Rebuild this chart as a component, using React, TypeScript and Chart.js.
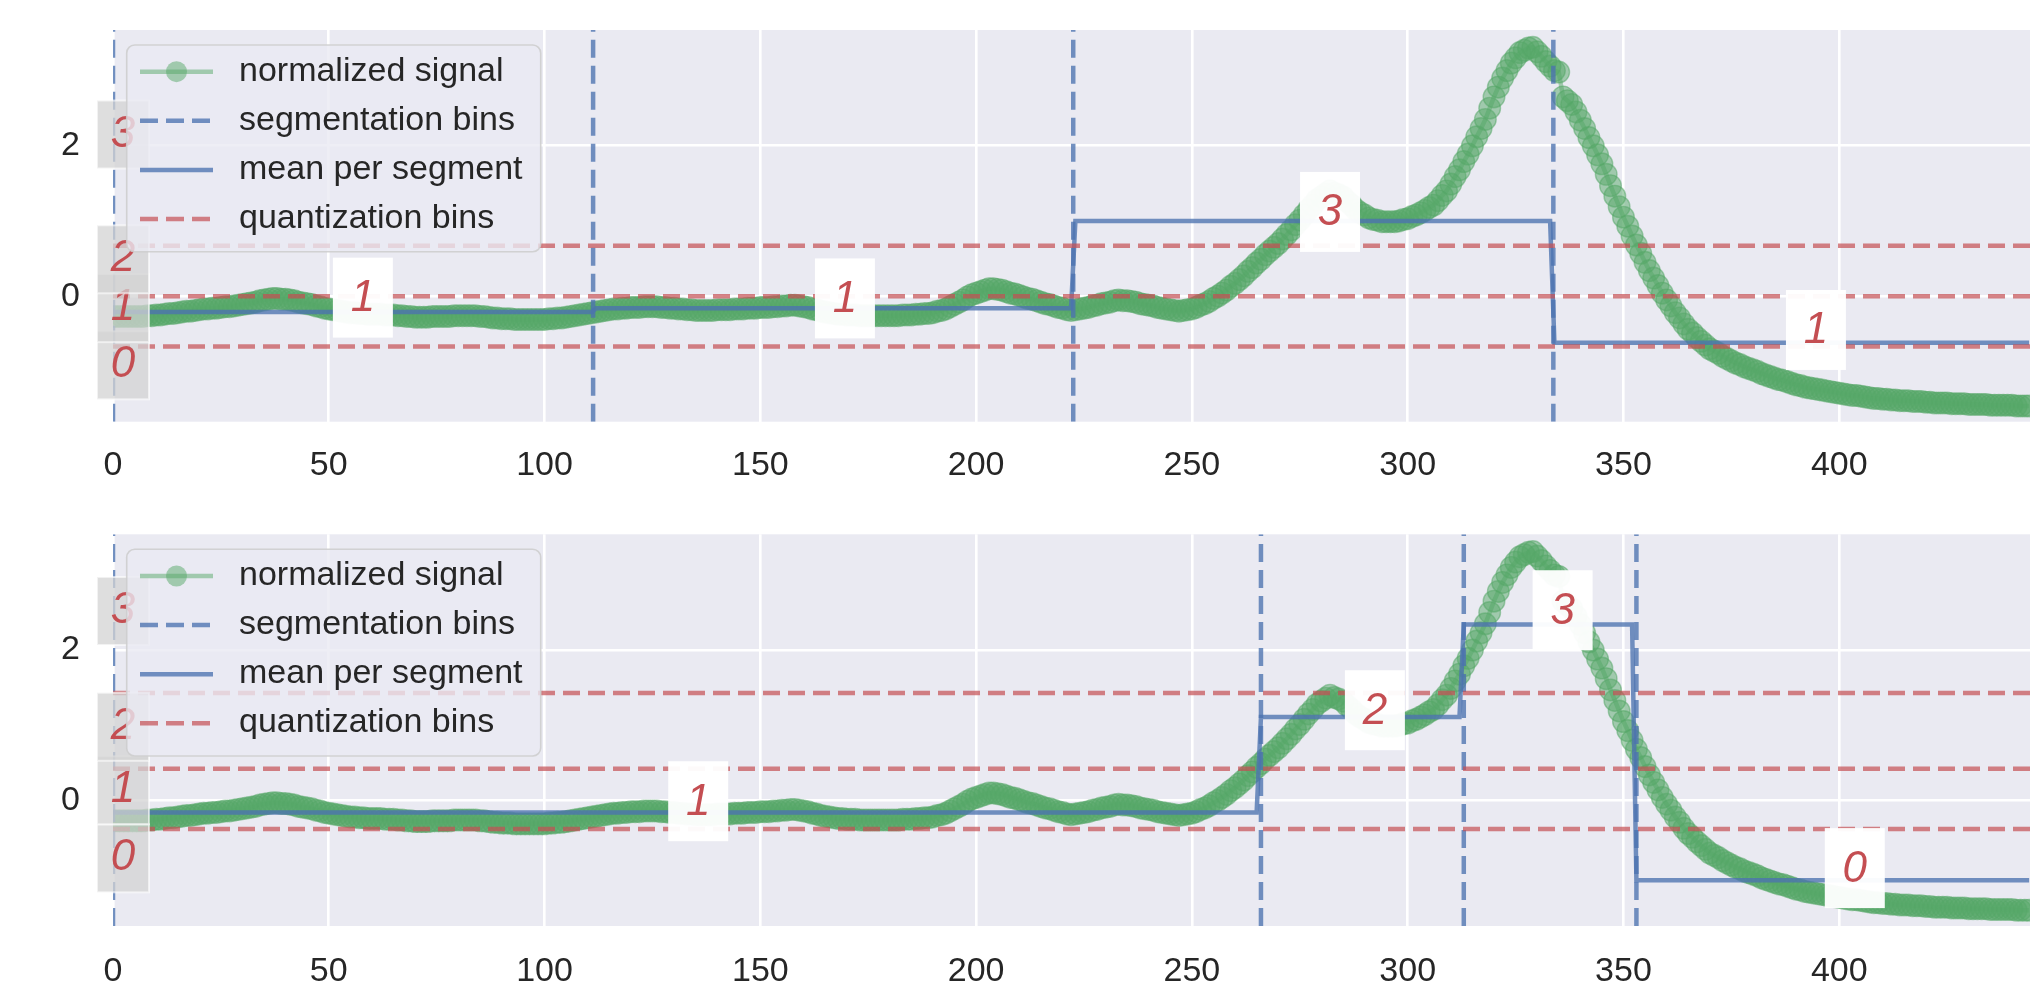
import React, { useEffect, useRef } from "react";
import { Chart, registerables } from "chart.js";

Chart.register(...registerables);

const FONT = "'Liberation Sans', Arial, sans-serif";

// normalized signal, one value per sample index 0..444
const signal: number[] = [
  -0.27, -0.27, -0.27, -0.27, -0.27, -0.27, -0.27, -0.27, -0.26, -0.26,
  -0.25, -0.25, -0.24, -0.23, -0.23, -0.22, -0.21, -0.2, -0.2, -0.19,
  -0.18, -0.17, -0.17, -0.16, -0.16, -0.15, -0.14, -0.14, -0.13, -0.12,
  -0.11, -0.1, -0.09, -0.08, -0.06, -0.05, -0.04, -0.03, -0.03, -0.04,
  -0.04, -0.05, -0.06, -0.08, -0.09, -0.1, -0.11, -0.13, -0.14, -0.16,
  -0.17, -0.18, -0.19, -0.2, -0.21, -0.22, -0.22, -0.23, -0.23, -0.24,
  -0.24, -0.24, -0.24, -0.25, -0.25, -0.25, -0.26, -0.26, -0.27, -0.27,
  -0.28, -0.28, -0.28, -0.28, -0.27, -0.27, -0.27, -0.27, -0.27, -0.26,
  -0.26, -0.26, -0.26, -0.26, -0.26, -0.27, -0.27, -0.28, -0.29, -0.29,
  -0.3, -0.3, -0.3, -0.31, -0.31, -0.31, -0.31, -0.31, -0.31, -0.31,
  -0.31, -0.3, -0.3, -0.29, -0.29, -0.28, -0.27, -0.26, -0.25, -0.24,
  -0.23, -0.22, -0.21, -0.2, -0.19, -0.18, -0.17, -0.17, -0.16, -0.16,
  -0.15, -0.15, -0.15, -0.14, -0.14, -0.14, -0.14, -0.15, -0.15, -0.16,
  -0.16, -0.17, -0.17, -0.18, -0.18, -0.19, -0.19, -0.19, -0.19, -0.19,
  -0.18, -0.18, -0.18, -0.18, -0.17, -0.17, -0.17, -0.16, -0.16, -0.16,
  -0.15, -0.15, -0.15, -0.14, -0.14, -0.13, -0.13, -0.12, -0.12, -0.13,
  -0.14, -0.15, -0.17, -0.18, -0.2, -0.21, -0.22, -0.23, -0.24, -0.24,
  -0.25, -0.25, -0.25, -0.26, -0.26, -0.26, -0.26, -0.26, -0.26, -0.26,
  -0.26, -0.26, -0.26, -0.25, -0.25, -0.25, -0.24, -0.24, -0.23, -0.23,
  -0.22, -0.2, -0.19, -0.17, -0.14, -0.11, -0.08, -0.05, -0.01, 0.02,
  0.04, 0.06, 0.08, 0.1, 0.1, 0.09, 0.08, 0.06, 0.04, 0.03,
  0.01, -0.01, -0.03, -0.04, -0.06, -0.08, -0.1, -0.11, -0.13, -0.15,
  -0.16, -0.18, -0.19, -0.18, -0.17, -0.16, -0.15, -0.13, -0.12, -0.1,
  -0.09, -0.08, -0.06, -0.05, -0.06, -0.06, -0.07, -0.08, -0.1, -0.11,
  -0.12, -0.13, -0.15, -0.16, -0.17, -0.18, -0.19, -0.2, -0.19, -0.18,
  -0.17, -0.15, -0.12, -0.1, -0.07, -0.03, 0.0, 0.04, 0.08, 0.13,
  0.17, 0.22, 0.27, 0.33, 0.38, 0.44, 0.49, 0.55, 0.6, 0.65,
  0.7, 0.76, 0.82, 0.88, 0.95, 1.01, 1.08, 1.15, 1.21, 1.28,
  1.32, 1.36, 1.4, 1.37, 1.35, 1.32, 1.26, 1.21, 1.15, 1.11,
  1.08, 1.04, 1.02, 1.01, 0.99, 0.99, 0.99, 0.99, 1.0, 1.02,
  1.03, 1.06, 1.08, 1.11, 1.14, 1.18, 1.21, 1.27, 1.34, 1.4,
  1.49, 1.59, 1.68, 1.79, 1.89, 2.0, 2.12, 2.23, 2.35, 2.5,
  2.65, 2.78, 2.9, 3.0, 3.1, 3.17, 3.24, 3.27, 3.3, 3.31,
  3.25, 3.19, 3.12, 3.06, 3.0, 2.98, 2.65, 2.6, 2.55, 2.45,
  2.34, 2.23, 2.11, 2.0, 1.88, 1.76, 1.62, 1.47, 1.33, 1.19,
  1.05, 0.93, 0.8, 0.68, 0.57, 0.45, 0.34, 0.24, 0.14, 0.04,
  -0.05, -0.13, -0.22, -0.29, -0.37, -0.44, -0.49, -0.55, -0.6, -0.65,
  -0.7, -0.73, -0.76, -0.8, -0.83, -0.86, -0.89, -0.91, -0.94, -0.96,
  -0.98, -1.0, -1.03, -1.05, -1.07, -1.09, -1.11, -1.12, -1.14, -1.16,
  -1.18, -1.19, -1.21, -1.22, -1.23, -1.24, -1.25, -1.26, -1.27, -1.28,
  -1.29, -1.3, -1.31, -1.32, -1.32, -1.33, -1.34, -1.35, -1.36, -1.36,
  -1.37, -1.37, -1.38, -1.38, -1.39, -1.39, -1.39, -1.4, -1.4, -1.4,
  -1.41, -1.41, -1.42, -1.42, -1.42, -1.42, -1.43, -1.43, -1.43, -1.43,
  -1.44, -1.44, -1.44, -1.44, -1.44, -1.45, -1.45, -1.45, -1.45, -1.45,
  -1.45, -1.46, -1.46, -1.46, -1.46,
];

const xTicks = [0, 50, 100, 150, 200, 250, 300, 350, 400];
const yTicks = [0, 2];
const X_MIN = 0;
const X_MAX = 444.2;
const Y_MIN = -1.67;
const Y_MAX = 3.54;

const legendLabels = ["normalized signal", "segmentation bins", "mean per segment", "quantization bins"];
const symbolNames = ["0", "1", "2", "3"];

// top panel
const topSegBins = [0, 111.25, 222.5, 333.75];
const topSegMeans = [-0.21, -0.16, 1.0, -0.62];
const topQuantBins = [-0.67, 0, 0.67];
const topSymbolY = [-0.92, -0.16, 0.49, 2.15];
const topLabelX = [57.9, 169.6, 282, 394.6];
const topLabelY = [-0.02, -0.03, 1.12, -0.45];
const topLabelText = ["1", "1", "3", "1"];

// bottom panel
const botSegBins = [0, 266, 313, 353];
const botSegMeans = [-0.16, 1.11, 2.34, -1.06];
const botQuantBins = [-0.38, 0.42, 1.43];
const botSymbolY = [-0.77, 0.135, 0.98, 2.52];
const botLabelX = [135.6, 292.4, 335.9, 403.6];
const botLabelY = [-0.01, 1.2, 2.53, -0.9];
const botLabelText = ["1", "2", "3", "0"];

const GREEN = "rgba(85,168,104,0.5)";
const BLUE = "rgba(76,114,176,0.78)";
const RED = "rgba(196,78,82,0.7)";
const RED_TXT = "#C44E52";
const TXT = "#262626";

type Panel = {
  segBins: number[];
  segMeans: number[];
  quantBins: number[];
  symbolY: number[];
  labelX: number[];
  labelY: number[];
  labelText: string[];
  padTop: number;
  xAxisH: number;
  tickPad: number;
};

function buildMean(bins: number[], means: number[], n: number) {
  const pts: { x: number; y: number }[] = [];
  for (let i = 0; i < bins.length; i++) {
    const start = Math.ceil(bins[i]);
    const next = i + 1 < bins.length ? bins[i + 1] : n;
    const end = Math.ceil(next) - 1;
    pts.push({ x: start, y: means[i] }, { x: end, y: means[i] });
  }
  return pts;
}

function buildVLines(bins: number[]) {
  const pts: { x: number; y: number | null }[] = [];
  bins.forEach((b) => {
    pts.push({ x: b, y: Y_MIN }, { x: b, y: Y_MAX }, { x: b, y: null });
  });
  return pts;
}

function buildHLines(levels: number[]) {
  const pts: { x: number; y: number | null }[] = [];
  levels.forEach((q) => {
    pts.push({ x: X_MIN, y: q }, { x: X_MAX, y: q }, { x: X_MAX, y: null });
  });
  return pts;
}

function roundRectPath(ctx: CanvasRenderingContext2D, x: number, y: number, w: number, h: number, r: number) {
  ctx.beginPath();
  ctx.moveTo(x + r, y);
  ctx.lineTo(x + w - r, y);
  ctx.arcTo(x + w, y, x + w, y + r, r);
  ctx.lineTo(x + w, y + h - r);
  ctx.arcTo(x + w, y + h, x + w - r, y + h, r);
  ctx.lineTo(x + r, y + h);
  ctx.arcTo(x, y + h, x, y + h - r, r);
  ctx.lineTo(x, y + r);
  ctx.arcTo(x, y, x + r, y, r);
  ctx.closePath();
}

function makeOverlay(p: Panel) {
  return {
    id: "overlay",
    beforeDraw(chart: any) {
      const { ctx, chartArea: a } = chart;
      ctx.save();
      ctx.fillStyle = "#EAEAF2";
      ctx.fillRect(a.left, a.top, a.right - a.left, a.bottom - a.top);
      ctx.restore();
    },
    afterDraw(chart: any) {
      const { ctx, chartArea: a } = chart;
      const xs = chart.scales.x;
      const ys = chart.scales.y;
      ctx.save();
      // segment symbol labels (white boxes)
      ctx.font = `italic 44px ${FONT}`;
      ctx.textAlign = "center";
      ctx.textBaseline = "alphabetic";
      p.labelText.forEach((t, i) => {
        const px = xs.getPixelForValue(p.labelX[i]);
        const py = ys.getPixelForValue(p.labelY[i]);
        ctx.fillStyle = "rgba(255,255,255,0.96)";
        ctx.fillRect(px - 30, py - 40, 60, 80);
        ctx.fillStyle = RED_TXT;
        ctx.fillText(t, px, py + 13.5);
      });
      // quantization symbol labels (gray boxes at left)
      const cx = a.left + 10;
      symbolNames.forEach((s, i) => {
        const py = ys.getPixelForValue(p.symbolY[i]);
        ctx.fillStyle = "rgba(211,211,211,0.75)";
        ctx.fillRect(cx - 26, py - 34, 52, 68);
        ctx.strokeStyle = "rgba(255,255,255,0.6)";
        ctx.lineWidth = 2;
        ctx.strokeRect(cx - 26, py - 34, 52, 68);
        ctx.fillStyle = RED_TXT;
        ctx.fillText(s, cx, py + 12);
      });
      // legend
      const L = a.left + 13.7;
      const T = a.top + 15;
      const W = 414;
      const H = 206.7;
      roundRectPath(ctx, L, T, W, H, 8);
      ctx.fillStyle = "rgba(234,234,242,0.8)";
      ctx.fill();
      ctx.lineWidth = 1.6;
      ctx.strokeStyle = "rgba(204,204,204,0.85)";
      ctx.stroke();
      legendLabels.forEach((lab, i) => {
        const ry = T + 26.7 + i * 49.1;
        const x0 = L + 13.3;
        const x1 = L + 86.3;
        ctx.lineWidth = 4.5;
        ctx.lineCap = "butt";
        if (i === 0) {
          ctx.setLineDash([]);
          ctx.strokeStyle = GREEN;
          ctx.beginPath();
          ctx.moveTo(x0, ry);
          ctx.lineTo(x1, ry);
          ctx.stroke();
          ctx.fillStyle = GREEN;
          ctx.beginPath();
          ctx.arc((x0 + x1) / 2, ry, 10.5, 0, Math.PI * 2);
          ctx.fill();
        } else {
          ctx.setLineDash(i === 2 ? [] : [18, 8]);
          ctx.strokeStyle = i === 3 ? RED : BLUE;
          ctx.beginPath();
          ctx.moveTo(x0, ry);
          ctx.lineTo(x1, ry);
          ctx.stroke();
          ctx.setLineDash([]);
        }
        ctx.font = `34px ${FONT}`;
        ctx.textAlign = "left";
        ctx.textBaseline = "alphabetic";
        ctx.fillStyle = TXT;
        ctx.fillText(lab, L + 112.3, ry + 9);
      });
      ctx.restore();
    },
  };
}

function zeroPad(s: any) {
  s.paddingTop = 0;
  s.paddingBottom = 0;
  s.paddingLeft = 0;
  s.paddingRight = 0;
}

function makeChart(canvas: HTMLCanvasElement, p: Panel) {
  const signalPts = signal.map((v, i) => ({ x: i, y: v }));
  return new Chart(canvas, {
    type: "line",
    data: {
      datasets: [
        {
          label: legendLabels[0],
          data: signalPts,
          borderColor: GREEN,
          borderWidth: 4.5,
          pointRadius: 10.8,
          pointBorderWidth: 1.4,
          pointBorderColor: GREEN,
          pointBackgroundColor: GREEN,
          pointHoverRadius: 10.8,
          tension: 0,
          clip: 0,
          order: 10,
        },
        {
          label: legendLabels[1],
          data: buildVLines(p.segBins),
          borderColor: BLUE,
          borderWidth: 4.5,
          borderDash: [18, 8],
          pointRadius: 0,
          spanGaps: false,
          clip: 0,
          order: 2,
        },
        {
          label: legendLabels[2],
          data: buildMean(p.segBins, p.segMeans, signal.length),
          borderColor: BLUE,
          borderWidth: 4.5,
          pointRadius: 0,
          clip: 0,
          order: 3,
        },
        {
          label: legendLabels[3],
          data: buildHLines(p.quantBins),
          borderColor: RED,
          borderWidth: 4.5,
          borderDash: [17, 8],
          pointRadius: 0,
          spanGaps: false,
          clip: 0,
          order: 1,
        },
      ] as any,
    },
    options: {
      animation: false,
      responsive: false,
      devicePixelRatio: 1,
      events: [],
      layout: { autoPadding: false, padding: { top: p.padTop, left: 0, right: 0, bottom: 0 } },
      plugins: { legend: { display: false }, tooltip: { enabled: false } },
      scales: {
        x: {
          type: "linear",
          min: X_MIN,
          max: X_MAX,
          afterBuildTicks: (s: any) => {
            s.ticks = xTicks.map((v) => ({ value: v }));
          },
          afterFit: (s: any) => {
            s.height = p.xAxisH;
            zeroPad(s);
          },
          grid: { color: "#ffffff", lineWidth: 2.6, drawTicks: false },
          border: { display: false },
          ticks: {
            padding: p.tickPad,
            autoSkip: false,
            maxRotation: 0,
            color: TXT,
            font: { family: FONT, size: 34 },
            callback: (v: any) => String(v),
          },
        },
        y: {
          type: "linear",
          min: Y_MIN,
          max: Y_MAX,
          afterBuildTicks: (s: any) => {
            s.ticks = yTicks.map((v) => ({ value: v }));
          },
          afterFit: (s: any) => {
            s.width = 113;
            zeroPad(s);
          },
          grid: { color: "#ffffff", lineWidth: 2.6, drawTicks: false },
          border: { display: false },
          ticks: {
            padding: 33,
            color: TXT,
            font: { family: FONT, size: 34 },
            callback: (v: any) => String(v),
          },
        },
      },
    } as any,
    plugins: [makeOverlay(p) as any],
  });
}

const topPanel: Panel = {
  segBins: topSegBins,
  segMeans: topSegMeans,
  quantBins: topQuantBins,
  symbolY: topSymbolY,
  labelX: topLabelX,
  labelY: topLabelY,
  labelText: topLabelText,
  padTop: 30,
  xAxisH: 78.3,
  tickPad: 24,
};

const botPanel: Panel = {
  segBins: botSegBins,
  segMeans: botSegMeans,
  quantBins: botQuantBins,
  symbolY: botSymbolY,
  labelX: botLabelX,
  labelY: botLabelY,
  labelText: botLabelText,
  padTop: 34.3,
  xAxisH: 63,
  tickPad: 25,
};

export default function App() {
  const topRef = useRef<HTMLCanvasElement | null>(null);
  const botRef = useRef<HTMLCanvasElement | null>(null);

  useEffect(() => {
    const c1 = makeChart(topRef.current as HTMLCanvasElement, topPanel);
    const c2 = makeChart(botRef.current as HTMLCanvasElement, botPanel);
    return () => {
      c1.destroy();
      c2.destroy();
    };
  }, []);

  return (
    <div style={{ position: "fixed", left: 0, top: 0, width: 2030, height: 989, background: "#ffffff", overflow: "hidden" }}>
      <canvas ref={topRef} width={2030} height={500} style={{ position: "absolute", left: 0, top: 0, width: 2030, height: 500, display: "block" }} />
      <canvas ref={botRef} width={2030} height={489} style={{ position: "absolute", left: 0, top: 500, width: 2030, height: 489, display: "block" }} />
    </div>
  );
}
